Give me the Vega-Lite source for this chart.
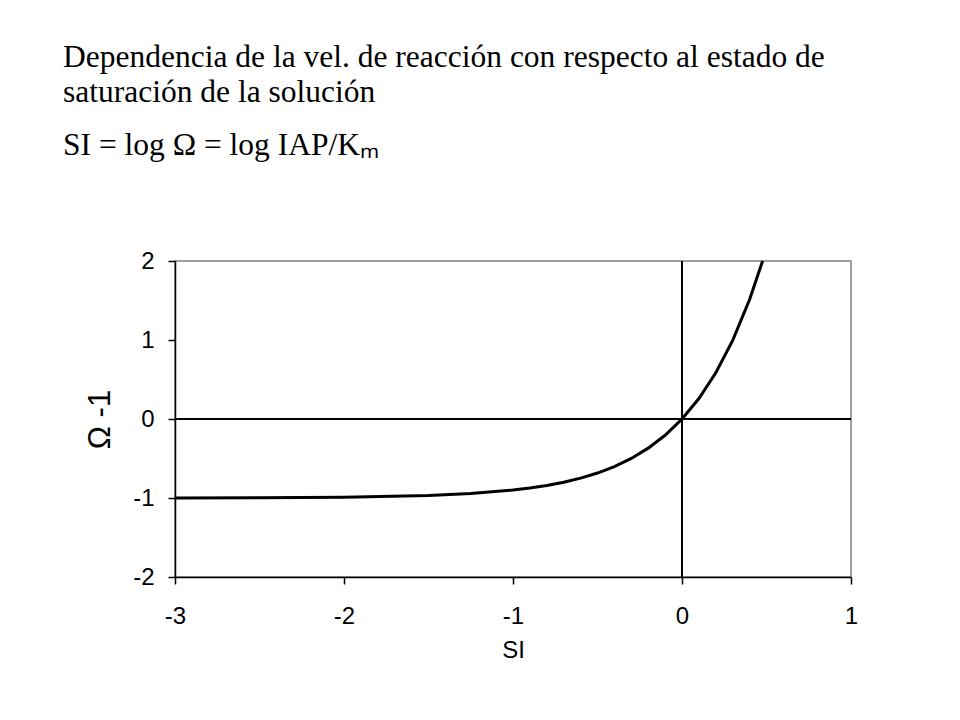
{
  "$schema": "https://vega.github.io/schema/vega-lite/v6.json",
  "width": 676,
  "height": 316,
  "autosize": {"type": "none"},
  "padding": {"left": 175, "top": 261, "right": 109, "bottom": 143},
  "background": "white",
  "title": {
    "text": ["Dependencia de la vel. de reacción con respecto al estado de", "saturación de la solución"],
    "subtitle": "SI = log Ω = log IAP/Kₘ",
    "anchor": "start",
    "frame": "group",
    "dx": -112,
    "offset": 88,
    "font": "Liberation Serif",
    "fontSize": 31.5,
    "fontWeight": "normal",
    "lineHeight": 35.5,
    "color": "black",
    "subtitleFont": "Liberation Serif",
    "subtitleFontSize": 31.5,
    "subtitleColor": "black",
    "subtitlePadding": 21
  },
  "config": {
    "view": {"stroke": "#808080", "strokeWidth": 1.5},
    "axis": {
      "grid": false,
      "domainColor": "black",
      "domainWidth": 1.5,
      "tickColor": "black",
      "tickWidth": 1.5,
      "labelFont": "Liberation Sans",
      "labelColor": "black",
      "labelFlush": false,
      "labelOverlap": false,
      "titleFont": "Liberation Sans",
      "titleFontWeight": "normal",
      "titleColor": "black"
    }
  },
  "data": {
    "values": [
      {"si": -3, "omega": -0.999},
      {"si": -2.5, "omega": -0.997},
      {"si": -2.25, "omega": -0.994},
      {"si": -2, "omega": -0.99},
      {"si": -1.5, "omega": -0.968},
      {"si": -1.25, "omega": -0.944},
      {"si": -1, "omega": -0.9},
      {"si": -0.9, "omega": -0.874},
      {"si": -0.8, "omega": -0.842},
      {"si": -0.7, "omega": -0.8},
      {"si": -0.6, "omega": -0.749},
      {"si": -0.5, "omega": -0.684},
      {"si": -0.4, "omega": -0.602},
      {"si": -0.3, "omega": -0.499},
      {"si": -0.2, "omega": -0.369},
      {"si": -0.1, "omega": -0.206},
      {"si": 0, "omega": 0},
      {"si": 0.1, "omega": 0.259},
      {"si": 0.2, "omega": 0.585},
      {"si": 0.3, "omega": 0.995},
      {"si": 0.4, "omega": 1.512},
      {"si": 0.477, "omega": 2.0}
    ]
  },
  "layer": [
    {
      "mark": {"type": "rule", "color": "black", "strokeWidth": 1.5},
      "encoding": {"x": {"datum": 0, "type": "quantitative"}}
    },
    {
      "mark": {"type": "rule", "color": "black", "strokeWidth": 1.5},
      "encoding": {"y": {"datum": 0, "type": "quantitative"}}
    },
    {
      "mark": {"type": "line", "color": "black", "strokeWidth": 3},
      "encoding": {
        "x": {
          "field": "si",
          "type": "quantitative",
          "title": "SI",
          "scale": {"domain": [-3, 1], "nice": false},
          "axis": {
            "values": [-3, -2, -1, 0, 1],
            "labelExpr": "toString(datum.value)",
            "labelFontSize": 24,
            "tickSize": 7,
            "labelPadding": 20,
            "titleFontSize": 24,
            "titlePadding": 10
          }
        },
        "y": {
          "field": "omega",
          "type": "quantitative",
          "title": "Ω -1",
          "scale": {"domain": [-2, 2], "nice": false},
          "axis": {
            "values": [-2, -1, 0, 1, 2],
            "labelExpr": "toString(datum.value)",
            "labelFontSize": 24,
            "tickSize": 7,
            "labelPadding": 14,
            "titleFontSize": 31,
            "titlePadding": 16
          }
        }
      }
    }
  ]
}
